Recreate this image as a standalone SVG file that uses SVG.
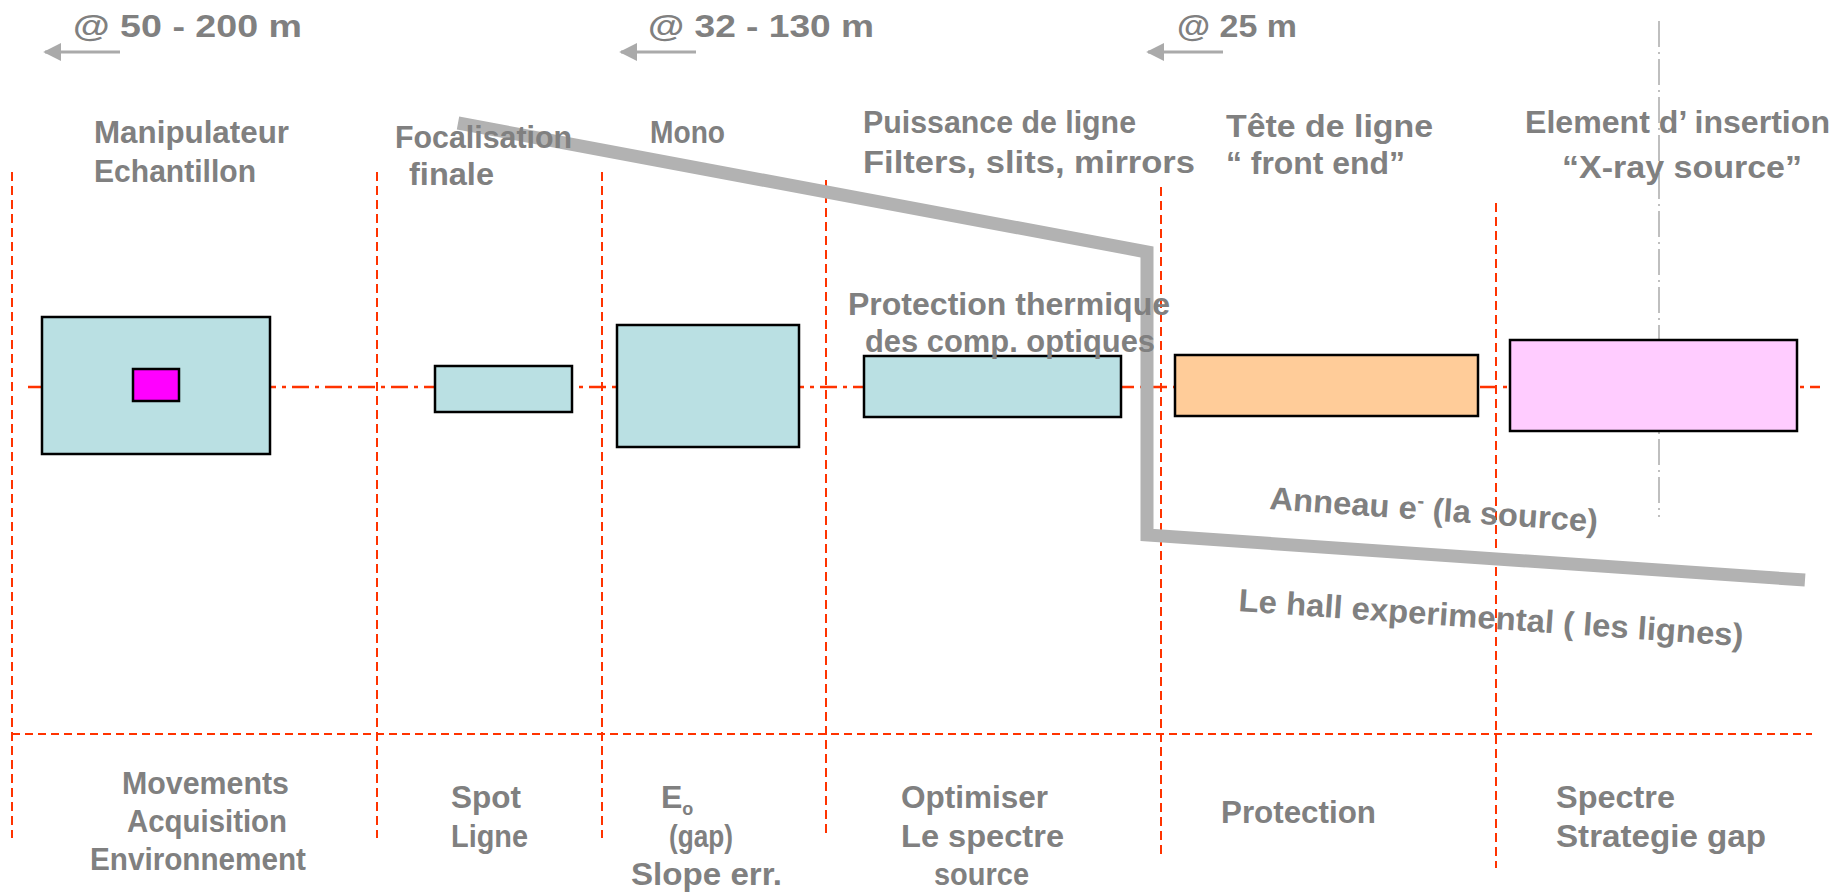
<svg xmlns="http://www.w3.org/2000/svg" width="1835" height="894" viewBox="0 0 1835 894">
<style>
.t{font-family:"Liberation Sans",Arial,sans-serif;font-weight:bold;font-size:32px;fill:#808080}
.vd{stroke:#FF3300;stroke-width:2;stroke-dasharray:9 5;fill:none}
.hd{stroke:#FF3300;stroke-width:2;stroke-dasharray:8 5;fill:none}
.ax{stroke:#FF3300;stroke-width:2.5;stroke-dasharray:17 6 4 6;fill:none}
.box{stroke:#000;stroke-width:2.5}
.arr{stroke:#AAAAAA;stroke-width:3;fill:none}
</style>
<defs>
<marker id="ah" viewBox="0 0 10 10" refX="9" refY="5" markerWidth="6" markerHeight="6" markerUnits="strokeWidth" orient="auto">
<path d="M0,0 L10,5 L0,10 z" fill="#AAAAAA"/>
</marker>
</defs>
<rect width="1835" height="894" fill="#fff"/>

<g id="grid">
<line class="vd" x1="12" y1="172" x2="12" y2="838"/>
<line class="vd" x1="377" y1="172" x2="377" y2="838"/>
<line class="vd" x1="602" y1="172" x2="602" y2="838"/>
<line class="vd" x1="826" y1="180" x2="826" y2="838"/>
<line class="vd" x1="1161" y1="187" x2="1161" y2="854"/>
<line class="vd" x1="1496" y1="203" x2="1496" y2="868"/>
<line class="hd" x1="12" y1="734" x2="1812" y2="734"/>
<line class="ax" x1="28" y1="387" x2="1820" y2="387"/>
<line x1="1659" y1="21" x2="1659" y2="517" stroke="#AAAAAA" stroke-width="1.5" stroke-dasharray="26 5 2 5"/>
</g>

<g id="connectors">
<line class="arr" x1="120" y1="52" x2="45" y2="52" marker-end="url(#ah)"/>
<line class="arr" x1="696" y1="52" x2="621" y2="52" marker-end="url(#ah)"/>
<line class="arr" x1="1223" y1="52" x2="1148" y2="52" marker-end="url(#ah)"/>
<polyline points="458,123 1147,252 1147,535 1805,580" fill="none" stroke="#B2B2B2" stroke-width="13" stroke-linejoin="miter"/>
</g>

<g id="node-sample">
<rect class="box" x="42" y="317" width="228" height="137" fill="#BAE0E3"/>
<rect class="box" x="133" y="369" width="46" height="32" fill="#FF00FF"/>
</g>
<g id="node-focus">
<rect class="box" x="435" y="366" width="137" height="46" fill="#BAE0E3"/>
</g>
<g id="node-mono">
<rect class="box" x="617" y="325" width="182" height="122" fill="#BAE0E3"/>
</g>
<g id="node-optics">
<rect class="box" x="864" y="356" width="257" height="61" fill="#BAE0E3"/>
</g>
<g id="node-frontend">
<rect class="box" x="1175" y="355" width="303" height="61" fill="#FFCC99"/>
</g>
<g id="node-source">
<rect class="box" x="1510" y="340" width="287" height="91" fill="#FFCCFF"/>
</g>

<g id="labels-top">
<text class="t" x="73" y="37" textLength="229" lengthAdjust="spacingAndGlyphs">@ 50 - 200 m</text>
<text class="t" x="648" y="37" textLength="226" lengthAdjust="spacingAndGlyphs">@ 32 - 130 m</text>
<text class="t" x="1177" y="37" textLength="120" lengthAdjust="spacingAndGlyphs">@ 25 m</text>
<text class="t" x="94" y="143" textLength="195" lengthAdjust="spacingAndGlyphs">Manipulateur</text>
<text class="t" x="94" y="182" textLength="162" lengthAdjust="spacingAndGlyphs">Echantillon</text>
<text class="t" x="395" y="148" textLength="177" lengthAdjust="spacingAndGlyphs">Focalisation</text>
<text class="t" x="409" y="185" textLength="85" lengthAdjust="spacingAndGlyphs">finale</text>
<text class="t" x="650" y="143" textLength="75" lengthAdjust="spacingAndGlyphs">Mono</text>
<text class="t" x="863" y="133" textLength="273" lengthAdjust="spacingAndGlyphs">Puissance de ligne</text>
<text class="t" x="863" y="173" textLength="332" lengthAdjust="spacingAndGlyphs">Filters, slits, mirrors</text>
<text class="t" x="1226" y="137" textLength="207" lengthAdjust="spacingAndGlyphs">Tête de ligne</text>
<text class="t" x="1226" y="174" textLength="179" lengthAdjust="spacingAndGlyphs">“ front end”</text>
<text class="t" x="1525" y="133" textLength="305" lengthAdjust="spacingAndGlyphs">Element d’ insertion</text>
<text class="t" x="1562" y="178" textLength="240" lengthAdjust="spacingAndGlyphs">“X-ray source”</text>
<text class="t" x="848" y="315" textLength="322" lengthAdjust="spacingAndGlyphs">Protection thermique</text>
<text class="t" x="865" y="352" textLength="290" lengthAdjust="spacingAndGlyphs">des comp. optiques</text>
<text class="t" x="1269" y="509" transform="rotate(4 1269 509)" textLength="329" lengthAdjust="spacingAndGlyphs">Anneau e<tspan dy="-12" font-size="20">-</tspan><tspan dy="12"> (la source)</tspan></text>
<text class="t" x="1238" y="611" transform="rotate(4 1238 611)" textLength="506" lengthAdjust="spacingAndGlyphs">Le hall experimental ( les lignes)</text>
</g>

<g id="labels-bottom">
<text class="t" x="122" y="794" textLength="167" lengthAdjust="spacingAndGlyphs">Movements</text>
<text class="t" x="127" y="832" textLength="160" lengthAdjust="spacingAndGlyphs">Acquisition</text>
<text class="t" x="90" y="870" textLength="216" lengthAdjust="spacingAndGlyphs">Environnement</text>
<text class="t" x="451" y="808" textLength="70" lengthAdjust="spacingAndGlyphs">Spot</text>
<text class="t" x="451" y="847" textLength="77" lengthAdjust="spacingAndGlyphs">Ligne</text>
<text class="t" x="661" y="808">E<tspan dy="7" font-size="18">o</tspan></text>
<text class="t" x="669" y="847" textLength="64" lengthAdjust="spacingAndGlyphs">(gap)</text>
<text class="t" x="631" y="885" textLength="151" lengthAdjust="spacingAndGlyphs">Slope err.</text>
<text class="t" x="901" y="808" textLength="147" lengthAdjust="spacingAndGlyphs">Optimiser</text>
<text class="t" x="901" y="847" textLength="163" lengthAdjust="spacingAndGlyphs">Le spectre</text>
<text class="t" x="934" y="885" textLength="95" lengthAdjust="spacingAndGlyphs">source</text>
<text class="t" x="1221" y="823" textLength="155" lengthAdjust="spacingAndGlyphs">Protection</text>
<text class="t" x="1556" y="808" textLength="119" lengthAdjust="spacingAndGlyphs">Spectre</text>
<text class="t" x="1556" y="847" textLength="210" lengthAdjust="spacingAndGlyphs">Strategie gap</text>
</g>
</svg>
